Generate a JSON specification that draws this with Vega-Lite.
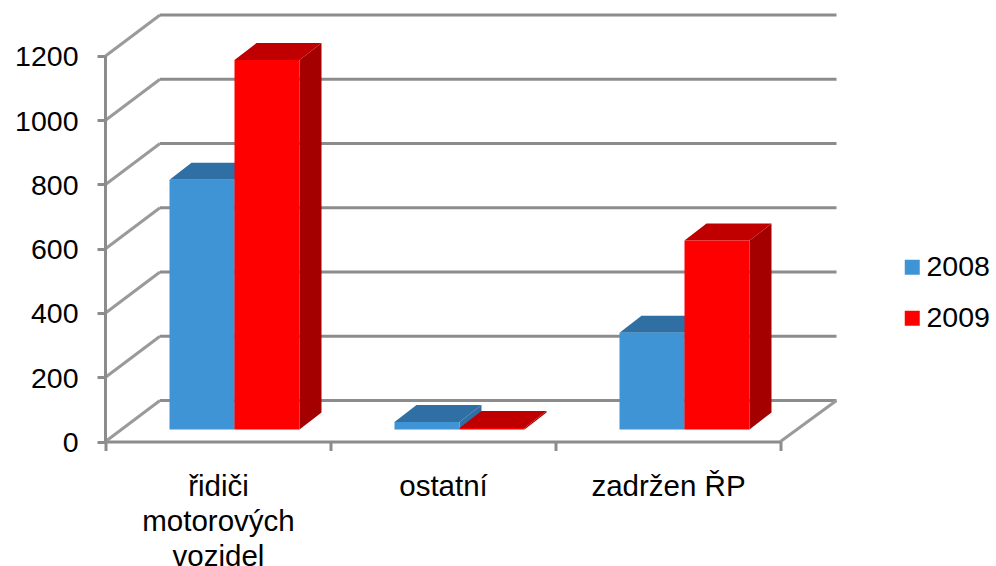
{
"$schema":"https://vega.github.io/schema/vega-lite/v6.json",
"width":731,"height":426.5,
"autosize":{"type":"none"},
"padding":{"left":105.5,"top":15,"right":159.5,"bottom":124.5},
"background":"white",
"config":{"font":"Liberation Sans","view":{"stroke":null}},
"datasets":{
"bars":[
{"category":"řidiči motorových vozidel","series":"2008","value":777},
{"category":"řidiči motorových vozidel","series":"2009","value":1150},
{"category":"ostatní","series":"2008","value":23},
{"category":"ostatní","series":"2009","value":5},
{"category":"zadržen ŘP","series":"2008","value":301},
{"category":"zadržen ŘP","series":"2009","value":588}
],
"grid":[{"v":0},{"v":200},{"v":400},{"v":600},{"v":800},{"v":1000},{"v":1200}]
},
"resolve":{"scale":{"x":"independent","color":"independent"},"axis":{"x":"independent"}},
"layer":[
{"data":{"name":"bars"},
 "mark":{"type":"bar","opacity":0},
 "encoding":{
  "x":{"field":"category","type":"nominal","sort":["řidiči motorových vozidel","ostatní","zadržen ŘP"],
   "scale":{"range":[0,675],"paddingInner":0,"paddingOuter":0},
   "axis":{"title":null,"labelAngle":0,"labelFontSize":29.5,"labelColor":"black","labelPadding":22,"labelLimit":400,"labelLineHeight":35,"tickBand":"extent","tickSize":9,"tickWidth":3,"tickColor":"#8c8c8c","domainColor":"#8c8c8c","domainWidth":3,
    "labelExpr":"datum.label == 'řidiči motorových vozidel' ? ['řidiči','motorových','vozidel'] : datum.label"}},
  "y":{"field":"value","type":"quantitative","stack":false,
   "scale":{"domain":[0,1327.6],"nice":false},
   "axis":{"title":null,"values":[0,200,400,600,800,1000,1200],"format":"d","grid":false,"domain":false,"labelFontSize":28.5,"labelColor":"black","labelPadding":19,"labelOffset":1,"tickSize":8.5,"tickWidth":3,"tickColor":"#8c8c8c"}}
 }},
{"data":{"name":"grid"},
 "transform":[{"calculate":"datum.v+127.6","as":"back"}],
 "mark":{"type":"rule","color":"#8c8c8c","strokeWidth":3},
 "encoding":{
  "x":{"datum":54.5,"type":"quantitative","scale":{"domain":[0,731],"range":[0,731]},"axis":null},
  "x2":{"datum":731},
  "y":{"field":"back","type":"quantitative"},
  "y2":{"field":"back"}
 }},
{"data":{"name":"grid"},
 "transform":[{"calculate":"datum.v+127.6","as":"back"}],
 "mark":{"type":"rule","color":"#9a9a9a","strokeWidth":3},
 "encoding":{
  "x":{"datum":0,"type":"quantitative","scale":{"domain":[0,731],"range":[0,731]},"axis":null},
  "x2":{"datum":54.5},
  "y":{"field":"v","type":"quantitative"},
  "y2":{"field":"back"}
 }},
{"data":{"values":[{"v":0}]},
 "transform":[{"calculate":"datum.v+127.6","as":"back"}],
 "mark":{"type":"rule","color":"#9a9a9a","strokeWidth":3},
 "encoding":{
  "x":{"datum":675,"type":"quantitative","scale":{"domain":[0,731],"range":[0,731]},"axis":null},
  "x2":{"datum":731},
  "y":{"field":"v","type":"quantitative"},
  "y2":{"field":"back"}
 }},
{"data":{"values":[{"a":0,"b":1200}]},
 "mark":{"type":"rule","color":"#8c8c8c","strokeWidth":3},
 "encoding":{
  "x":{"datum":0,"type":"quantitative","scale":{"domain":[0,731],"range":[0,731]},"axis":null},
  "y":{"field":"a","type":"quantitative"},
  "y2":{"field":"b"}
 }},
{"data":{"name":"bars"},
 "transform":[
  {"calculate":"indexof(['řidiči motorových vozidel','ostatní','zadržen ŘP'],datum.category)","as":"i"},
  {"calculate":"64+225*datum.i+(datum.series=='2008'?0:65)","as":"x0"},
  {"calculate":"[0,1]","as":"t"},{"flatten":["t"]},
  {"calculate":"datum.x0+65+22*datum.t","as":"sx"},
  {"calculate":"37.4+52.9*datum.t","as":"lo"},
  {"calculate":"datum.lo+datum.value","as":"hi"}
 ],
 "mark":{"type":"area"},
 "encoding":{
  "x":{"field":"sx","type":"quantitative","scale":{"domain":[0,731],"range":[0,731]},"axis":null},
  "y":{"field":"hi","type":"quantitative","stack":false},
  "y2":{"field":"lo"},
  "detail":{"field":"category"},
  "color":{"field":"series","type":"nominal","scale":{"domain":["2008","2009"],"range":["#2f6fa3","#a50000"]},"legend":null}
 }},
{"data":{"name":"bars"},
 "transform":[
  {"calculate":"indexof(['řidiči motorových vozidel','ostatní','zadržen ŘP'],datum.category)","as":"i"},
  {"calculate":"64+225*datum.i+(datum.series=='2008'?0:65)","as":"x0"},
  {"calculate":"[0,1]","as":"t"},{"flatten":["t"]},
  {"calculate":"datum.x0+22*datum.t","as":"xl"},
  {"calculate":"datum.x0+65+22*datum.t","as":"xr"},
  {"calculate":"37.4+52.9*datum.t+datum.value","as":"yy"}
 ],
 "mark":{"type":"area","orient":"horizontal"},
 "encoding":{
  "y":{"field":"yy","type":"quantitative","stack":false},
  "x":{"field":"xl","type":"quantitative","scale":{"domain":[0,731],"range":[0,731]},"axis":null,"stack":false},
  "x2":{"field":"xr"},
  "detail":{"field":"category"},
  "color":{"field":"series","type":"nominal","scale":{"domain":["2008","2009"],"range":["#2f6fa3","#c00000"]},"legend":null}
 }},
{"data":{"name":"bars"},
 "transform":[
  {"calculate":"indexof(['řidiči motorových vozidel','ostatní','zadržen ŘP'],datum.category)","as":"i"},
  {"calculate":"64+225*datum.i+(datum.series=='2008'?0:65)","as":"x0"},
  {"calculate":"datum.x0+65","as":"x1"},
  {"calculate":"37.4+datum.value","as":"top"},
  {"calculate":"37.4","as":"bottom"}
 ],
 "mark":{"type":"rect"},
 "encoding":{
  "x":{"field":"x0","type":"quantitative","scale":{"domain":[0,731],"range":[0,731]},"axis":null},
  "x2":{"field":"x1"},
  "y":{"field":"top","type":"quantitative"},
  "y2":{"field":"bottom"},
  "color":{"field":"series","type":"nominal","scale":{"domain":["2008","2009"],"range":["#3f94d6","#ff0000"]},
   "legend":{"title":null,"orient":"none","legendX":792.5,"legendY":238,"symbolType":"square","symbolSize":225,"symbolStrokeWidth":0,"labelFontSize":28.5,"labelColor":"black","labelOffset":0,"rowPadding":22,"symbolOpacity":1}}
 }}
]
}
